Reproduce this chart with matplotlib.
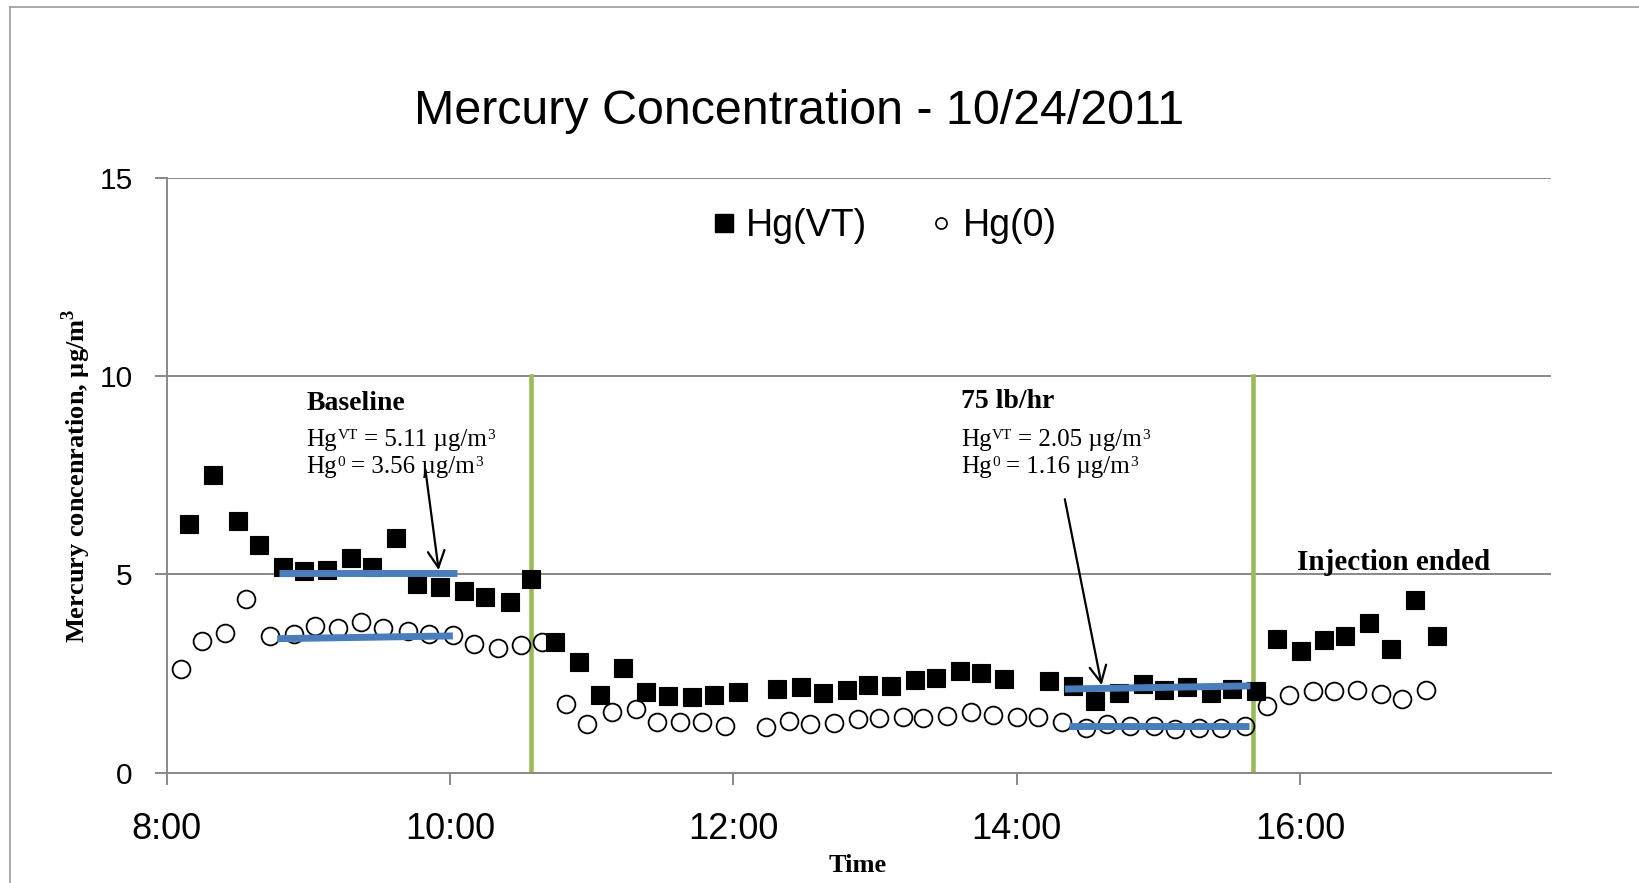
import matplotlib
matplotlib.use("Agg")
import matplotlib.pyplot as plt
from matplotlib.lines import Line2D

plt.rcParams['mathtext.fontset'] = 'custom'
plt.rcParams['mathtext.rm'] = 'Liberation Serif:bold'
plt.rcParams['mathtext.bf'] = 'Liberation Serif:bold'

# ---------------- data (time in hours of day) ----------------
hgvt_time = [8.16, 8.33, 8.50, 8.65, 8.82, 8.97, 9.13, 9.30, 9.45, 9.62, 9.77, 9.93,
             10.10, 10.25, 10.42, 10.57, 10.74, 10.91, 11.06, 11.22, 11.38, 11.54,
             11.71, 11.86, 12.03, 12.31, 12.48, 12.63, 12.80, 12.95, 13.11, 13.28,
             13.43, 13.60, 13.75, 13.91, 14.23, 14.40, 14.55, 14.72, 14.89, 15.04,
             15.20, 15.37, 15.52, 15.69, 15.84, 16.01, 16.17, 16.32, 16.49, 16.64,
             16.81, 16.97]
hgvt_value = [6.27, 7.50, 6.34, 5.74, 5.18, 5.09, 5.12, 5.42, 5.18, 5.92, 4.76, 4.69,
              4.58, 4.42, 4.31, 4.88, 3.30, 2.78, 1.96, 2.63, 2.04, 1.94,
              1.92, 1.96, 2.03, 2.10, 2.15, 2.01, 2.08, 2.22, 2.18, 2.35,
              2.39, 2.57, 2.51, 2.37, 2.32, 2.19, 1.81, 2.02, 2.23, 2.08,
              2.15, 2.00, 2.11, 2.07, 3.37, 3.07, 3.34, 3.46, 3.78, 3.12,
              4.35, 3.45]

hg0_time = [8.10, 8.25, 8.41, 8.56, 8.73, 8.90, 9.05, 9.21, 9.37, 9.53, 9.70, 9.85,
            10.02, 10.17, 10.34, 10.50, 10.65, 10.82, 10.97, 11.14, 11.31, 11.46,
            11.62, 11.78, 11.94, 12.23, 12.39, 12.54, 12.71, 12.88, 13.03, 13.20,
            13.34, 13.51, 13.68, 13.83, 14.00, 14.15, 14.32, 14.49, 14.64, 14.80,
            14.97, 15.12, 15.29, 15.44, 15.61, 15.77, 15.92, 16.09, 16.24, 16.40,
            16.57, 16.72, 16.89]
hg0_value = [2.61, 3.31, 3.53, 4.37, 3.45, 3.50, 3.71, 3.65, 3.81, 3.66, 3.57, 3.51,
             3.47, 3.24, 3.14, 3.21, 3.29, 1.74, 1.22, 1.53, 1.61, 1.27,
             1.27, 1.28, 1.19, 1.15, 1.31, 1.23, 1.25, 1.35, 1.38, 1.40,
             1.39, 1.44, 1.52, 1.45, 1.41, 1.40, 1.29, 1.12, 1.24, 1.19,
             1.18, 1.10, 1.14, 1.14, 1.18, 1.68, 1.95, 2.05, 2.07, 2.08,
             1.98, 1.85, 2.08]

# period-average lines
base_vt_x, base_vt_y = [8.79, 10.05], [5.03, 5.03]
base_0_x, base_0_y = [8.78, 10.02], [3.38, 3.45]
inj_vt_x, inj_vt_y = [14.34, 15.65], [2.11, 2.19]
inj_0_x, inj_0_y = [14.37, 15.64], [1.19, 1.19]

# injection start / end markers
event_times = [10.57, 15.67]
event_top = 10

x_ticks = [8, 10, 12, 14, 16]
x_tick_labels = ['8:00', '10:00', '12:00', '14:00', '16:00']
y_ticks = [0, 5, 10, 15]

# ---------------- figure ----------------
W, H = 1640, 883
fig = plt.figure(figsize=(W / 100, H / 100), dpi=100)
ax = fig.add_axes([166.7 / W, 1 - 772.7 / H, (1550.7 - 166.7) / W, (772.7 - 178) / H])
renderer = fig.canvas.get_renderer()

gray = '#888888'
ax.set_xlim(8, 17.77)
ax.set_ylim(0, 15)
ax.set_yticks(y_ticks)
ax.set_xticks(x_ticks)
ax.set_xticklabels(x_tick_labels)
ax.yaxis.grid(True, color=gray, lw=1.4)
ax.set_axisbelow(True)
for s in ['top', 'right']:
    ax.spines[s].set_visible(False)
for s in ['left', 'bottom']:
    ax.spines[s].set_color(gray)
    ax.spines[s].set_linewidth(1.4)
ax.tick_params(axis='both', direction='out', color=gray, length=8.4, width=1.4)
ax.tick_params(axis='x', pad=20, labelsize=26)
ax.tick_params(axis='y', pad=16, labelsize=21.5)
for lab in ax.get_xticklabels() + ax.get_yticklabels():
    lab.set_family('Liberation Sans')

for t in event_times:
    ax.plot([t, t], [0, event_top], color='#9BBB59', lw=3.3, zorder=2)

ax.plot(hgvt_time, hgvt_value, ls='none', marker='s', ms=13.6, mfc='black',
        mec='black', mew=0.8, zorder=4, clip_on=False)
ax.plot(hg0_time, hg0_value, ls='none', marker='o', ms=12.8, mfc='none',
        mec='black', mew=1.3, zorder=4, clip_on=False)

blue = '#4A7EBB'
for xs, ys in [(base_vt_x, base_vt_y), (base_0_x, base_0_y),
               (inj_vt_x, inj_vt_y), (inj_0_x, inj_0_y)]:
    ax.plot(xs, ys, color=blue, lw=5, solid_capstyle='butt', zorder=5)

arrow = dict(arrowstyle='->,head_length=0.6,head_width=0.3', color='black',
             lw=1.6, shrinkA=0, shrinkB=0, mutation_scale=20)
ax.annotate('', xy=(9.92, 5.11), xytext=(9.826, 7.65), arrowprops=arrow, zorder=6)
ax.annotate('', xy=(14.60, 2.21), xytext=(14.34, 6.90), arrowprops=arrow, zorder=6)

serif = 'Liberation Serif'
MAIN, SUP, RISE = 18, 11, 7.5


def rich_line(x_px, base_px, segs):
    """segs: list of (text, is_superscript, gap_before_px)"""
    x = x_px
    for s, sup, gap in segs:
        x += gap
        size = SUP if sup else MAIN
        rise = RISE if sup else 0
        t = fig.text(x / W, 1 - (base_px - rise) / H, s, family=serif, fontsize=size,
                     va='baseline', ha='left')
        x += t.get_window_extent(renderer).width


def block(x_px, bases, head, vt_txt, zero_txt):
    fig.text(x_px / W, 1 - bases[0] / H, head, family=serif, weight='bold',
             fontsize=20, va='baseline', ha='left')
    rich_line(x_px, bases[1], [('Hg', False, 0), ('VT', True, 0.5),
                               ('= ' + vt_txt + ' µg/m', False, 6.0), ('3', True, 0.5)])
    rich_line(x_px, bases[2], [('Hg', False, 0), ('0', True, 0.5),
                               ('= ' + zero_txt + ' µg/m', False, 6.0), ('3', True, 0.5)])


block(306.5, (410, 446, 473.3), 'Baseline', '5.11', '3.56')
block(961, (408, 446, 473), '75 lb/hr', '2.05', '1.16')
fig.text(1297.3 / W, 1 - 570 / H, 'Injection ended', family=serif, weight='bold',
         fontsize=21, va='baseline', ha='left')

ax.set_ylabel('Mercury concenration, µg/m$^{3}$', family=serif, weight='bold', fontsize=19)
ax.yaxis.label.set_va('center')
ax.yaxis.set_label_coords(76.4 / W, 1 - 476 / H, transform=fig.transFigure)
ax.set_xlabel('Time', family=serif, weight='bold', fontsize=19)
ax.xaxis.label.set_va('center')
ax.xaxis.set_label_coords(858 / W, 1 - 866 / H, transform=fig.transFigure)

fig.text(799 / W, 1 - 112 / H, 'Mercury Concentration - 10/24/2011',
         family='Liberation Sans', fontsize=34.8, ha='center', va='center')

handles = [Line2D([], [], ls='none', marker='s', ms=13, mfc='black', mec='black'),
           Line2D([], [], ls='none', marker='o', ms=8, mfc='none', mec='black', mew=1.2)]
fig.legend(handles, ['Hg(VT)', 'Hg(0)'], loc='center', ncol=2,
           bbox_to_anchor=(884 / W, 1 - 226 / H), frameon=False,
           prop={'family': 'Liberation Sans', 'size': 27},
           handlelength=0.7, handletextpad=0.25, columnspacing=1.6)

# outer frame (top and left edges)
fig.add_artist(Line2D([10.5 / W, 1], [1 - 7.3 / H, 1 - 7.3 / H], transform=fig.transFigure,
                      color='#999999', lw=1.2))
fig.add_artist(Line2D([10.5 / W, 10.5 / W], [0, 1 - 7.3 / H], transform=fig.transFigure,
                      color='#999999', lw=1.2))

fig.savefig('out.png', dpi=100)
